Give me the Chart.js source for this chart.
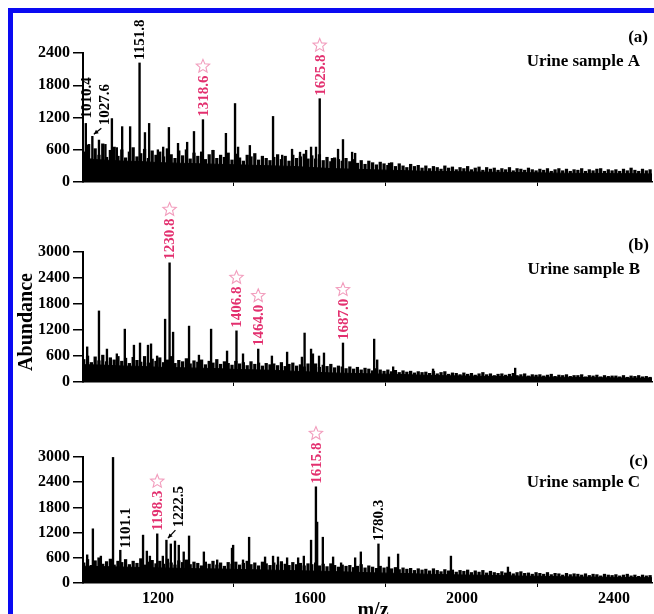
<!DOCTYPE html>
<html><head><meta charset="utf-8">
<script src="https://cdn.jsdelivr.net/npm/chart.js@4/dist/chart.umd.min.js"></script>
<style>
html,body{margin:0;padding:0;background:#fff;overflow:hidden;width:654px;height:614px}
#frame{position:absolute;left:8px;top:8px;width:720px;height:720px;border:5px solid #0a0af2;box-sizing:border-box}
canvas{position:absolute;left:0;top:0;width:654px;height:614px}
</style></head><body>
<div id="frame"></div>
<canvas id="ca" width="654" height="614"></canvas>
<canvas id="cb" width="654" height="614"></canvas>
<canvas id="cc" width="654" height="614"></canvas>
<script>
// ---------- DATA ----------
const mzMin = 1003, mzMax = 2500;
const xTickValues = [1200, 1600, 2000, 2400];
const yTicksA = [0, 600, 1200, 1800, 2400];
const yTicksBC = [0, 600, 1200, 1800, 2400, 3000];
const panelNames = ['(a)', '(b)', '(c)'];
const sampleNames = ['Urine sample A', 'Urine sample B', 'Urine sample C'];
const yAxisTitle = 'Abundance';
const xAxisTitle = 'm/z';

// noise spikes sampled every 10 m/z starting at 1005
const noiseStart = 1005, noiseStep = 10;
const noiseA = [
 560,690,430,620,500,710,460,590,650,480,
 600,450,560,640,470,530,610,440,580,500,
 560,470,620,510,440,580,490,600,430,540,
 480,560,420,510,590,440,500,460,540,410,
 520,450,390,500,470,530,410,480,440,400,
 460,510,420,480,390,500,440,470,520,430,
 490,430,510,400,460,380,450,420,390,440,
 380,420,350,400,330,390,360,320,370,340,
 310,360,290,340,300,270,330,290,310,260,
 300,250,290,270,240,300,260,280,230,270,
 250,290,230,260,280,220,270,240,260,220,
 250,230,270,210,250,240,220,260,230,210,
 240,220,250,200,230,250,210,240,200,230,
 220,250,200,230,210,240,250,200,230,210,
 230,200,240,210,260,220,200,240,210,230];
const noiseB = [
 520,600,450,580,490,620,470,560,510,590,
 480,550,430,570,500,460,590,440,530,480,
 560,450,510,590,430,500,470,540,420,490,
 460,510,400,480,440,520,410,470,430,390,
 480,420,450,380,470,410,440,370,430,400,
 420,380,450,360,410,440,370,400,350,420,
 380,420,340,390,360,410,330,370,350,310,
 350,300,340,280,320,300,260,310,280,250,
 280,240,270,220,260,230,250,210,240,220,
 230,200,250,190,220,240,180,210,200,170,
 210,180,200,160,190,220,170,190,150,180,
 190,160,180,200,150,170,190,140,170,160,
 170,140,160,180,130,160,150,170,130,150,
 150,170,120,150,140,160,120,150,130,140,
 140,120,150,110,140,130,150,120,130,110];
const noiseC = [
 480,560,420,530,600,450,510,570,430,520,
 490,560,440,520,470,580,430,500,540,460,
 520,450,570,480,430,530,490,550,440,500,
 470,410,500,450,520,430,480,400,490,450,
 500,430,470,520,440,480,410,500,460,420,
 480,430,510,450,420,490,440,470,410,460,
 440,480,410,450,390,460,420,380,430,400,
 420,370,400,440,360,410,380,350,400,360,
 380,340,370,320,360,330,350,300,340,310,
 330,290,340,300,270,320,290,310,260,300,
 280,310,250,290,260,300,240,280,250,230,
 270,240,260,220,250,270,230,240,210,250,
 230,210,250,200,230,220,190,230,200,220,
 210,190,220,180,210,200,170,210,190,180,
 200,170,190,210,170,190,160,190,170,180];

// solid noise floor sampled every 50 m/z starting at 1005
const floorStep = 50;
const floorA = [430,410,390,380,360,350,340,330,320,310,300,290,270,250,240,230,220,210,200,195,190,185,180,175,170,165,160,160,155,155,150];
const floorB = [400,390,370,360,340,330,320,310,290,280,270,250,230,210,200,190,180,170,155,145,140,130,125,120,115,110,105,100,95,90,90];
const floorC = [400,390,380,370,360,350,340,335,325,315,305,295,285,275,260,245,235,225,210,200,190,185,175,165,160,150,145,140,135,130,125];

// peaks: [m/z, abundance]
const peaksA = [[1010.4,1090],[1019,700],[1027.6,850],[1045,780],[1062,700],[1079,1180],[1092,640],
 [1106,1030],[1127,1030],[1151.8,2215],[1166,920],[1177,1090],[1200,600],[1214,650],[1229,1015],
 [1253,720],[1277,740],[1295,940],[1318.6,1160],[1345,590],[1379,905],[1403,1460],[1411,650],
 [1442,680],[1503,1220],[1527,500],[1553,610],[1574,555],[1590,590],[1603,650],[1616,650],
 [1625.8,1550],[1658,440],[1674,610],[1687,790],[1711,555],[1719,535],[1808,350]];
const peaksB = [[1014,810],[1045,1640],[1066,760],[1092,650],[1113,1220],[1137,850],[1153,900],
 [1174,850],[1182,880],[1198,600],[1219,1450],[1230.8,2750],[1240,1150],[1282,1290],[1308,620],
 [1340,1220],[1382,715],[1406.8,1180],[1424,650],[1464.0,760],[1500,600],[1540,690],[1579,575],
 [1586,1130],[1603,760],[1608,650],[1624,600],[1637,670],[1687.0,900],[1769,990],[1777,510],
 [1819,350],[1924,300],[2140,320]];
const peaksC = [[1014,670],[1029,1290],[1050,640],[1082,2990],[1101.1,780],[1161,1140],[1171,760],
 [1179,640],[1198.3,1170],[1213,640],[1222.5,1020],[1234,930],[1245,1000],[1255,900],[1268,740],
 [1282,1120],[1321,740],[1356,550],[1395,830],[1398,900],[1424,550],[1440,1090],[1482,620],
 [1503,640],[1516,620],[1540,600],[1569,600],[1584,640],[1603,1020],[1615.8,2290],[1619,1450],
 [1634,1090],[1661,620],[1682,480],[1719,600],[1734,740],[1780.3,930],[1808,620],[1832,690],
 [1971,640],[2121,380]];

// peak annotations: [m/z, text, starred]
const labelsA = [[1010.4,'1010.4',false],[1027.6,'1027.6',false],[1151.8,'1151.8',false],[1318.6,'1318.6',true],[1625.8,'1625.8',true]];
const labelsB = [[1230.8,'1230.8',true],[1406.8,'1406.8',true],[1464.0,'1464.0',true],[1687.0,'1687.0',true]];
const labelsC = [[1101.1,'1101.1',false],[1198.3,'1198.3',true],[1222.5,'1222.5',false],[1615.8,'1615.8',true],[1780.3,'1780.3',false]];

// ---------- STYLE ----------
const SERIF = '"Liberation Serif", "Times New Roman", serif';
Chart.defaults.font.family = SERIF;
const PINK = '#e3306f', STARC = '#f29dbd';
const nudges = {'1027.6':{dx:12,dy:11,arrow:true}, '1222.5':{dx:12,dy:13,arrow:true}, '1010.4':{dx:0,dy:5}, '1101.1':{dx:5,dy:2}};

function drawStar(ctx, cx, cy, r){
  ctx.beginPath();
  for (let i=0;i<10;i++){
    const a = -Math.PI/2 + i*Math.PI/5;
    const rr = i%2===0 ? r : r*0.45;
    const x = cx + rr*Math.cos(a), y = cy + rr*Math.sin(a);
    if(i===0) ctx.moveTo(x,y); else ctx.lineTo(x,y);
  }
  ctx.closePath(); ctx.strokeStyle = STARC; ctx.lineWidth = 1.1; ctx.stroke();
}

function makeAnnot(peaks, labels, texts){
  return {
    id:'annot',
    afterDraw(chart){
      const ctx = chart.ctx, xs = chart.scales.x, ys = chart.scales.y;
      ctx.save();
      labels.forEach(([mz, txt, star])=>{
        const pk = peaks.find(p=>p[0]===mz);
        const nd = nudges[txt] || {dx:0, dy:3};
        const px = xs.getPixelForValue(mz), py = ys.getPixelForValue(pk[1]);
        const x = px + nd.dx, yb = py - nd.dy;
        ctx.font = 'bold 15px ' + SERIF;
        ctx.fillStyle = star ? PINK : '#000';
        const w = ctx.measureText(txt).width;
        ctx.save(); ctx.translate(x, yb); ctx.rotate(-Math.PI/2);
        ctx.textAlign='left'; ctx.textBaseline='middle';
        ctx.fillText(txt, 0, 1);
        ctx.restore();
        if (star) drawStar(ctx, x, yb - w - 9, 7);
        if (nd.arrow){
          const x0 = px + 9, y0 = py - nd.dy + 3, x1 = px + 1.5, y1 = py - 2;
          ctx.strokeStyle='#000'; ctx.fillStyle='#000'; ctx.lineWidth=1.3;
          ctx.beginPath(); ctx.moveTo(x0,y0); ctx.lineTo(x1,y1); ctx.stroke();
          const ang = Math.atan2(y1-y0, x1-x0);
          ctx.beginPath(); ctx.moveTo(x1,y1);
          ctx.lineTo(x1-5*Math.cos(ang-0.45), y1-5*Math.sin(ang-0.45));
          ctx.lineTo(x1-5*Math.cos(ang+0.45), y1-5*Math.sin(ang+0.45));
          ctx.closePath(); ctx.fill();
        }
      });
      texts.forEach(t=>{
        ctx.font = 'bold ' + t.size + 'px ' + SERIF;
        ctx.fillStyle = '#000';
        ctx.save(); ctx.translate(t.x, t.y); if (t.rot) ctx.rotate(t.rot);
        ctx.textAlign = t.align; ctx.textBaseline = 'middle';
        ctx.fillText(t.text, 0, 0);
        ctx.restore();
      });
      ctx.restore();
    }
  };
}

function build(id, peaks, noise, floor, yMax, yTicks, showX, padTop, padBottom, xH, labels, texts){
  return new Chart(document.getElementById(id), {
    type:'bar',
    data:{datasets:[
      {type:'bar', data:peaks.map(p=>({x:p[0], y:p[1]})), backgroundColor:'#000', barThickness:1.7, grouped:false, order:1},
      {type:'bar', data:noise.map((v,i)=>({x:noiseStart+i*noiseStep, y:v})), backgroundColor:'#000', barThickness:2.6, grouped:false, order:2},
      {type:'line', data:floor.map((v,i)=>({x:noiseStart+i*floorStep, y:v})), borderColor:'#000', backgroundColor:'#000',
       borderWidth:1, pointRadius:0, fill:'origin', tension:0, order:3}
    ]},
    options:{
      responsive:false, animation:false, events:[],
      layout:{padding:{left:0, right:2, top:padTop, bottom:padBottom}},
      plugins:{legend:{display:false}, tooltip:{enabled:false}},
      scales:{
        x:{type:'linear', min:mzMin, max:mzMax, offset:false,
           afterBuildTicks:s=>{s.ticks = xTickValues.map(v=>({value:v}));},
           afterFit:s=>{s.height = xH;},
           grid:{display:true, drawOnChartArea:false, drawTicks:true, tickLength:4, color:'#000', lineWidth:1},
           border:{display:true, color:'#000', width:1.5},
           ticks:{display:showX, color:'#000', font:{size:16, weight:'bold'}, padding:2, maxRotation:0, callback:v=>String(v)}},
        y:{min:0, max:yMax,
           afterBuildTicks:s=>{s.ticks = yTicks.map(v=>({value:v}));},
           afterFit:s=>{s.width = 83;},
           grid:{display:true, drawOnChartArea:false, drawTicks:true, tickLength:10, color:'#000', lineWidth:1.5},
           border:{display:true, color:'#000', width:2},
           ticks:{color:'#000', font:{size:16, weight:'bold'}, padding:3, callback:v=>String(v)}}
      }
    },
    plugins:[makeAnnot(peaks, labels, texts)]
  });
}

build('ca', peaksA, noiseA, floorA, 2400, yTicksA, false, 53, 614-182-10, 10, labelsA, [
  {text:panelNames[0], x:648, y:38, size:17, align:'right'},
  {text:sampleNames[0], x:640, y:62, size:17, align:'right'}]);
build('cb', peaksB, noiseB, floorB, 3000, yTicksBC, false, 252, 614-382-10, 10, labelsB, [
  {text:panelNames[1], x:649, y:246, size:17, align:'right'},
  {text:sampleNames[1], x:640, y:270, size:17, align:'right'},
  {text:yAxisTitle, x:27, y:322, size:20, align:'center', rot:-Math.PI/2}]);
build('cc', peaksC, noiseC, floorC, 3000, yTicksBC, true, 457, 614-583-24, 24, labelsC, [
  {text:panelNames[2], x:648, y:462, size:17, align:'right'},
  {text:sampleNames[2], x:640, y:483, size:17, align:'right'},
  {text:xAxisTitle, x:373, y:611, size:20, align:'center'}]);
</script></body></html>
